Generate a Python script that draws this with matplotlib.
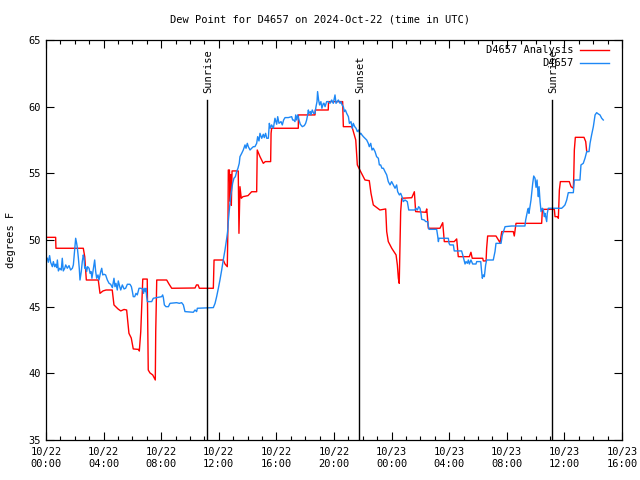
import matplotlib
matplotlib.use('Agg')
import matplotlib.pyplot as plt
from matplotlib.ticker import MultipleLocator
import matplotlib.transforms as mtransforms

# hours since 2024-10-22 00:00 UTC, dew point in degrees F
analysis_t = [0, 0.67, 0.69, 2.59, 2.69, 2.80, 3.63, 3.75, 3.96, 4.17, 4.6, 4.72, 5.0, 5.19, 5.42, 5.6,
              5.76, 5.92, 6.06, 6.46, 6.48, 6.58, 6.72, 7.03, 7.10, 7.22, 7.41, 7.59, 7.62, 7.69, 8.38,
              8.54, 8.73, 10.35, 10.45, 10.56, 10.65, 11.62, 11.67, 12.31, 12.43, 12.59, 12.64, 12.66,
              12.74, 12.78, 12.82, 12.87, 12.92, 13.35, 13.40, 13.47, 13.56, 13.68, 14.03, 14.28, 14.63,
              14.65, 14.67, 14.86, 15.09, 15.23, 15.60, 15.63, 15.67, 17.52, 17.53, 18.68, 18.70, 19.6,
              19.62, 20.6, 20.65, 21.23, 21.28, 21.41, 21.51, 21.62, 21.85, 22.15, 22.45, 22.57, 22.73,
              23.19, 23.59, 23.66, 23.77, 24.01, 24.31, 24.40, 24.47, 24.53, 24.63, 24.70, 25.40, 25.58,
              25.67, 26.37, 26.44, 26.55, 27.36, 27.55, 27.66, 28.35, 28.52, 28.63, 29.40, 29.51, 29.6,
              30.33, 30.37, 30.56, 30.6, 30.67, 31.25, 31.53, 31.65, 32.45, 32.52, 32.64, 34.42, 34.47,
              35.30, 35.35, 35.53, 35.58, 35.65, 35.72, 36.34, 36.46, 36.62, 36.65, 36.69, 36.76, 37.36,
              37.48, 37.55]
analysis_v = [50.2, 50.2, 49.38, 49.38, 48.75, 47.0, 47.0, 46.0, 46.18, 46.25, 46.25, 45.13, 44.83, 44.68,
              44.79, 44.75, 43.0, 42.65, 41.83, 41.79, 41.67, 43.12, 47.07, 47.07, 40.25, 40.03, 39.88,
              39.5, 43.12, 47.0, 47.0, 46.7, 46.38, 46.4, 46.63, 46.63, 46.38, 46.38, 48.5, 48.5, 48.2,
              48.0, 51.5, 55.25, 55.25, 52.9, 54.9, 52.6, 55.18, 55.18, 50.5, 54.0, 53.13, 53.25, 53.33,
              53.62, 53.62, 55.25, 56.75, 56.25, 55.75, 55.88, 55.88, 58.0, 58.38, 58.38, 59.38, 59.38,
              59.75, 59.75, 60.38, 60.38, 58.5, 58.5, 58.38, 57.88, 57.5, 55.63, 55.13, 54.5, 54.45, 53.5,
              52.63, 52.25, 52.33, 50.63, 49.88, 49.38, 48.88, 48.13, 47.13, 46.75, 52.13, 53.13, 53.17,
              53.62, 52.13, 52.08, 52.33, 50.88, 50.88, 51.3, 49.88, 49.88, 50.08, 48.75, 48.75, 49.08,
              48.63, 48.63, 48.43, 48.43, 49.38, 50.3, 50.3, 49.8, 50.63, 50.63, 50.3, 51.25, 51.25, 52.3,
              52.3, 51.75, 51.75, 51.63, 53.75, 54.38, 54.38, 54.0, 53.88, 54.75, 56.75, 57.7, 57.7,
              57.38, 56.63]

obs_t = [0.09, 0.16, 0.25, 0.32, 0.44, 0.51, 0.60, 0.67, 0.74, 0.79, 0.86, 0.95, 1.06, 1.13, 1.20, 1.30,
         1.37, 1.48, 1.60, 1.71, 1.83, 1.90, 1.99, 2.06, 2.13, 2.18, 2.25, 2.31, 2.36, 2.45, 2.52, 2.59,
         2.64, 2.69, 2.75, 2.82, 2.89, 2.99, 3.06, 3.13, 3.19, 3.29, 3.38, 3.45, 3.52, 3.61, 3.68, 3.80,
         3.87, 3.94, 4.03, 4.14, 4.26, 4.38, 4.49, 4.61, 4.72, 4.79, 4.86, 4.95, 5.02, 5.12, 5.19, 5.30,
         5.42, 5.53, 5.65, 5.83, 5.93, 6.0, 6.06, 6.16, 6.25, 6.34, 6.46, 6.57, 6.71, 6.78,
         6.81, 6.90, 6.94, 6.99, 7.04, 7.34, 7.45, 7.80, 8.03, 8.10, 8.15, 8.22, 8.33, 8.50, 8.61, 9.07,
         9.26, 9.42, 9.54, 9.65, 10.23, 10.35, 10.46, 10.51, 11.62, 11.74, 11.85, 11.97, 12.08, 12.2,
         12.31, 12.43, 12.55, 12.61, 12.66, 12.73, 12.82, 12.89, 12.96, 13.05, 13.15, 13.24, 13.33, 13.42,
         13.47, 13.59, 13.70, 13.82, 13.89, 13.98, 14.05, 14.17, 14.28, 14.40, 14.51, 14.63, 14.70, 14.79,
         14.86, 14.98, 15.09, 15.16, 15.25, 15.33, 15.44, 15.51, 15.58, 15.67, 15.79, 15.90, 16.02, 16.09,
         16.18, 16.32, 16.41, 16.5, 16.60, 16.83, 17.06, 17.13, 17.20, 17.29, 17.34, 17.41, 17.48, 17.57,
         17.66, 17.80, 17.94, 18.03, 18.10, 18.17, 18.22, 18.26, 18.36, 18.40, 18.49, 18.59, 18.68, 18.75,
         18.82, 18.86, 18.93, 19.0, 19.09, 19.16, 19.26, 19.31, 19.38, 19.49, 19.61, 19.72, 19.84, 19.95,
         20.07, 20.14, 20.23, 20.30, 20.42, 20.49, 20.56, 20.65, 20.72, 20.79, 20.88, 21.0, 21.07, 21.18,
         21.27, 21.34, 21.44, 21.53, 21.62, 21.71, 21.81, 21.87, 21.94, 22.04, 22.15, 22.27, 22.38, 22.45,
         22.55, 22.64, 22.73, 22.85, 22.96, 23.08, 23.15, 23.24, 23.33, 23.43, 23.54, 23.66, 23.77, 23.89,
         24.0, 24.12, 24.24, 24.35, 24.42, 24.54, 24.63, 24.72, 24.81, 24.93, 25.09, 25.19, 25.62, 25.69,
         25.79, 25.88, 25.97, 26.04, 26.09, 26.27, 26.37, 26.51, 26.55, 26.60, 27.13, 27.2, 27.25, 27.29,
         27.94, 27.99, 28.05, 28.29, 28.35, 28.86, 28.94, 29.03, 29.1, 29.17, 29.26, 29.33, 29.40, 29.51,
         29.63, 29.86, 29.91, 30.19, 30.23, 30.30, 30.37, 30.44, 30.49, 30.53, 30.60, 31.06, 31.18, 31.25,
         31.60, 31.69, 31.88, 32.34, 33.26, 33.31, 33.38, 33.45, 33.50, 33.54, 33.61, 33.68, 33.73, 33.80,
         33.87, 33.96, 34.03, 34.10, 34.14, 34.19, 34.24, 34.31, 34.38, 34.47, 34.54, 34.61, 34.65, 34.72,
         34.77, 34.81, 34.88, 35.81, 35.93, 36.04, 36.16, 36.27, 36.62, 36.69, 37.08, 37.15, 37.31, 37.43,
         37.55, 37.71, 37.78, 37.89, 38.01, 38.13, 38.24, 38.36, 38.47, 38.59, 38.70]
obs_v = [48.63, 48.33, 48.83, 48.33, 48.0, 48.38, 48.0, 48.18, 47.93, 48.5, 47.68, 47.88, 47.75, 48.63,
         47.68, 47.88, 48.13, 47.88, 48.08, 47.75, 47.88, 48.13, 49.25, 50.13, 49.75, 49.38, 48.63, 47.88,
         47.0, 47.63, 48.38, 48.88, 48.63, 47.88, 48.0, 47.63, 48.0, 47.88, 47.5, 47.63, 47.13, 47.88, 48.5,
         47.63, 47.13, 47.38, 47.0, 47.63, 47.88, 47.38, 47.43, 47.38, 47.0, 46.75, 46.68, 46.43, 47.13,
         46.5, 46.75, 46.25, 46.93, 46.5, 46.25, 46.63, 46.33, 46.38, 46.68, 46.68, 46.5, 46.13, 45.75,
         45.75, 46.0, 45.88, 46.38, 46.38, 46.33, 46.0,
         46.38, 46.13, 46.38, 45.75, 45.38, 45.38, 45.63, 45.7, 45.75, 45.88, 45.68, 45.13, 45.0, 45.0,
         45.25, 45.3, 45.25, 45.3, 45.13, 44.63, 44.58, 44.75, 44.63, 44.88, 44.93, 45.25, 45.75, 46.38,
         47.0, 47.75, 48.5, 49.25, 50.13, 50.63, 51.38, 52.25, 53.25, 53.75, 54.25, 54.63, 54.75, 55.13,
         55.38, 55.75, 56.25, 56.5, 56.75, 57.13, 56.88, 57.25, 57.0, 56.75, 56.88, 57.0, 57.0, 57.25,
         57.75, 57.43, 58.0, 57.63, 57.93, 57.68, 58.0, 57.63, 57.63, 58.75, 58.38, 58.63, 58.38, 59.13,
         58.68, 59.25, 58.75, 58.88, 58.63, 59.0, 59.18, 59.18, 59.25, 59.0, 59.0, 58.88, 59.38, 59.0,
         59.38, 59.0, 58.68, 58.5, 58.58, 58.75, 59.0, 59.38, 59.75, 59.5, 59.63, 59.38, 59.75, 59.5, 59.5,
         60.0, 60.38, 61.13, 60.5, 60.13, 60.38, 59.88, 60.25, 60.25, 60.0, 60.38, 60.38, 60.25, 60.5,
         60.25, 60.88, 60.25, 60.38, 60.5, 60.25, 60.38, 60.13, 60.0, 59.63, 59.75, 59.5, 59.25, 58.75,
         58.88, 58.38, 58.75, 58.5, 58.38, 58.13, 58.25, 57.93, 58.0, 57.88, 57.75, 57.63, 57.5, 57.25,
         57.0, 57.25, 56.75, 56.88, 56.63, 56.25, 56.13, 55.63, 55.63, 55.38, 55.38, 55.13, 54.88, 54.38,
         54.13, 54.38, 54.13, 53.88, 54.13, 53.63, 53.38, 53.5, 53.25, 52.88, 53.0, 52.88, 52.25, 52.25,
         52.38, 52.25, 52.5, 52.38, 52.0, 51.55, 51.5, 51.38, 51.38, 51.05, 50.8, 50.8, 50.3, 49.88,
         50.13, 50.13, 49.75, 49.63, 49.63, 49.18, 49.18, 48.88, 48.5, 48.2, 48.38, 48.25, 48.5, 48.2,
         48.5, 48.2, 48.2, 48.38, 48.38, 47.88, 47.13, 47.38, 47.25, 47.75, 48.13, 48.5, 48.5, 49.13,
         49.75, 49.75, 50.38, 51.0, 51.05, 51.05, 51.5, 51.88, 52.25, 52.38, 52.0, 52.5, 53.0, 53.5, 54.25,
         54.8, 54.63, 53.95, 54.5, 53.88, 53.25, 54.0, 52.88, 52.13, 52.38, 52.25, 51.75, 52.0, 51.63,
         51.38, 52.0, 52.38, 52.38, 52.5, 52.63, 53.0, 53.55, 53.55, 54.5, 54.5, 55.63, 55.75, 56.13,
         56.63, 56.63, 57.25, 57.88, 58.5, 59.38, 59.55, 59.45, 59.38, 59.13, 59.0]

sun_t = [11.2, 21.75, 35.17]
sun_labels = ['Sunrise', 'Sunset', 'Sunrise']

xtick_hours = list(range(0, 41, 4))
xtick_labels = ['10/22\n00:00', '10/22\n04:00', '10/22\n08:00', '10/22\n12:00', '10/22\n16:00',
                '10/22\n20:00', '10/23\n00:00', '10/23\n04:00', '10/23\n08:00', '10/23\n12:00',
                '10/23\n16:00']

plt.rcParams['font.family'] = ['DejaVu Sans Mono']
fs = 7.5

fig = plt.figure(figsize=(6.4, 4.8), dpi=100)
ax = fig.add_axes([46 / 640, 40 / 480, 576 / 640, 400 / 480])

ax.plot(analysis_t, analysis_v, color='#ff0000', lw=1.0, label='D4657 Analysis')
ax.plot(obs_t, obs_v, color='#1e88f5', lw=1.0, label='D4657')

ax.set_xlim(0, 40)
ax.set_ylim(35, 65)
ax.set_xticks(xtick_hours)
ax.set_xticklabels(xtick_labels, fontsize=fs, linespacing=1.3)
ax.xaxis.set_minor_locator(MultipleLocator(1))
ax.set_yticks(range(35, 66, 5))
ax.tick_params(axis='y', labelsize=fs)
ax.tick_params(which='both', direction='in', top=True, right=True, width=0.8)
ax.tick_params(which='major', length=6)
ax.tick_params(which='minor', length=3)
ax.tick_params(axis='x', pad=5)
ax.tick_params(axis='y', pad=4)
for s in ax.spines.values():
    s.set_linewidth(0.9)

# legend sits under the last sunrise label, as in the original
leg = ax.legend(loc='upper right', frameon=False, markerfirst=False, fontsize=fs,
                handlelength=2.7, handletextpad=0.7, labelspacing=0.3,
                borderaxespad=0.5, bbox_to_anchor=(0.993, 1.01))

trans = mtransforms.blended_transform_factory(ax.transData, ax.transAxes)
for t, lab in zip(sun_t, sun_labels):
    ax.axvline(t, ymin=0, ymax=0.85, color='black', lw=1.0)
    ax.text(t + 0.07, 0.868, lab, rotation=90, ha='center', va='bottom',
            fontsize=fs, transform=trans, zorder=5)

ax.set_ylabel('degrees F', fontsize=fs)
ax.yaxis.set_label_coords(-0.052, 0.5)
fig.text(0.5, 1 - 20 / 480, 'Dew Point for D4657 on 2024-Oct-22 (time in UTC)',
         ha='center', va='center', fontsize=fs)

fig.savefig('out.png', dpi=100)
